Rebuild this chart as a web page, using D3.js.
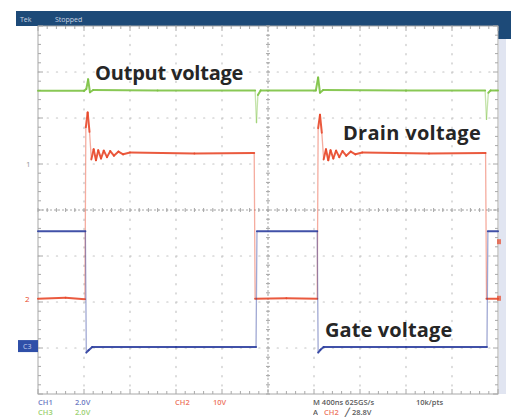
<!DOCTYPE html>
<meta charset="utf-8">
<title>Scope capture</title>
<style>
body {
  margin: 0;
  background: #fff;
}
text {
  font-family: "Open Sans", sans-serif;
}
</style>
<body>
<script src="https://d3js.org/d3.v7.min.js"></script>
<script>
// traces as [time in divisions, level in divisions from centre]
var outputVoltage = [[0,2.59],[1.0,2.59],[1.05,2.63],[1.09,2.84],[1.13,2.56],[1.2,2.61],[2.6,2.6],[4.72,2.6],[4.75,1.9],[4.78,2.5],[4.84,2.6],
  [6.04,2.6],[6.09,2.88],[6.13,2.55],[6.2,2.61],[8.0,2.6],[9.72,2.6],[9.75,1.97],[9.79,2.55],[9.84,2.6],[10,2.6]];
var drainVoltage = [[0,-1.93],[0.6,-1.91],[1.02,-1.94],[1.04,1.8],[1.08,2.12],[1.12,1.7],[1.16,1.1],[1.21,1.32],[1.26,1.08],[1.31,1.3],[1.37,1.12],
  [1.43,1.29],[1.5,1.15],[1.57,1.28],[1.65,1.18],[1.75,1.27],[1.85,1.21],[2.0,1.25],[3.4,1.23],[4.7,1.24],[4.72,-1.93],[5.4,-1.92],[6.07,-1.93],
  [6.09,1.78],[6.13,2.07],[6.17,1.68],[6.21,1.1],[6.26,1.32],[6.31,1.08],[6.36,1.3],[6.42,1.12],[6.48,1.29],[6.55,1.15],[6.62,1.28],[6.7,1.18],
  [6.8,1.27],[6.9,1.21],[7.05,1.25],[8.5,1.23],[9.73,1.24],[9.75,-1.93],[10,-1.93]];
var gateVoltage = [[0,-0.46],[1.03,-0.46],[1.05,-3.1],[1.1,-3.05],[1.18,-2.98],[3.0,-2.98],[4.74,-2.98],[4.76,-0.46],[6.07,-0.46],
  [6.09,-3.1],[6.14,-3.04],[6.21,-2.98],[8.0,-2.98],[9.76,-2.98],[9.78,-0.46],[10,-0.46]];

var traceColors = {output: "#7cc242", drain: "#e8482a", gate: "#2c3e9e"};
var labels = [
  {text: "Output voltage", t: 1.24, v: 2.83},
  {text: "Drain voltage", t: 6.63, v: 1.52},
  {text: "Gate voltage", t: 6.24, v: -2.77}
];
var footerRow1 = [["CH1", "#3b4fb0", 38], ["2.0V", "#3b4fb0", 75], ["CH2", "#e8482a", 175], ["10V", "#e8482a", 213], ["M 400ns 625GS/s", "#222", 313], ["10k/pts", "#222", 416]];
var footerRow2 = [["CH3", "#7cc242", 38], ["2.0V", "#7cc242", 75], ["A", "#222", 313], ["CH2", "#e8482a", 324], ["\u2571 28.8V", "#222", 345]];

var w = 511, h = 417;
var x = d3.scaleLinear().domain([0, 10]).range([38, 498]);
var y = d3.scaleLinear().domain([-4, 4]).range([394, 26]);

var svg = d3.select("body").append("svg")
    .attr("width", w)
    .attr("height", h);

// header bar
svg.append("rect").attr("x", 16).attr("y", 11).attr("width", w - 16).attr("height", 15).attr("fill", "#1d4a78");
svg.append("rect").attr("x", 498).attr("y", 11).attr("width", 13).attr("height", 28).attr("fill", "#1d4a78");
svg.append("rect").attr("x", 499).attr("y", 39).attr("width", 7).attr("height", 355).attr("fill", "#e1e5f1");
svg.append("text").attr("x", 20).attr("y", 22).attr("font-size", 7).attr("fill", "#c9d3e2").text("Tek");
svg.append("text").attr("x", 55).attr("y", 22).attr("font-size", 7).attr("fill", "#c9d3e2").text("Stopped");

// dotted grid
var minor = d3.range(0, 10.01, 0.2), minorY = d3.range(-4, 4.01, 0.2);
var grid = svg.append("g").attr("stroke", "#c4c4c4").attr("stroke-width", 1.2).attr("stroke-dasharray", "1.2,8").attr("stroke-linecap", "round");
d3.range(1, 10).forEach(function(d) {
  grid.append("line").attr("x1", x(d)).attr("x2", x(d)).attr("y1", y(4)).attr("y2", y(-4));
});
d3.range(-3, 4).forEach(function(d) {
  grid.append("line").attr("x1", x(0)).attr("x2", x(10)).attr("y1", y(d)).attr("y2", y(d));
});

// frame and centre crosshair with minor ticks
var frame = svg.append("g").attr("stroke", "#a8a8a8").attr("stroke-width", 1);
frame.append("rect").attr("x", x(0)).attr("y", y(4)).attr("width", x(10) - x(0)).attr("height", y(-4) - y(4)).attr("fill", "none");
frame.append("line").attr("x1", x(5)).attr("x2", x(5)).attr("y1", y(4)).attr("y2", y(-4)).attr("stroke-dasharray", "2,2");
frame.append("line").attr("x1", x(0)).attr("x2", x(10)).attr("y1", y(0)).attr("y2", y(0)).attr("stroke-dasharray", "2,2");
minor.forEach(function(d) {
  var len = Math.abs(d - Math.round(d)) < 0.01 ? 5 : 3;
  frame.append("line").attr("x1", x(d)).attr("x2", x(d)).attr("y1", y(0) - 2).attr("y2", y(0) + 2);
  frame.append("line").attr("x1", x(d)).attr("x2", x(d)).attr("y1", y(4)).attr("y2", y(4) + len);
  frame.append("line").attr("x1", x(d)).attr("x2", x(d)).attr("y1", y(-4)).attr("y2", y(-4) - len);
});
minorY.forEach(function(d) {
  var len = Math.abs(d - Math.round(d)) < 0.01 ? 5 : 3;
  frame.append("line").attr("x1", x(5) - 2).attr("x2", x(5) + 2).attr("y1", y(d)).attr("y2", y(d));
  frame.append("line").attr("x1", x(0)).attr("x2", x(0) + len).attr("y1", y(d)).attr("y2", y(d));
  frame.append("line").attr("x1", x(10)).attr("x2", x(10) - len).attr("y1", y(d)).attr("y2", y(d));
});

// traces: fast edges drawn paler, like the phosphor
function drawTrace(data, color) {
  var g = svg.append("g").attr("stroke", color).attr("fill", "none").attr("stroke-linecap", "round");
  d3.pairs(data).forEach(function(p) {
    var dx = Math.abs(x(p[1][0]) - x(p[0][0])), dy = Math.abs(y(p[1][1]) - y(p[0][1]));
    var edge = dy > 25 && dy > 4 * dx;
    g.append("line")
        .attr("x1", x(p[0][0])).attr("y1", y(p[0][1]))
        .attr("x2", x(p[1][0])).attr("y2", y(p[1][1]))
        .attr("stroke-width", edge ? 1.3 : 2)
        .attr("stroke-opacity", edge ? 0.45 : 0.9);
  });
}
drawTrace(outputVoltage, traceColors.output);
drawTrace(drainVoltage, traceColors.drain);
drawTrace(gateVoltage, traceColors.gate);

// channel ground markers
svg.append("text").attr("x", 26).attr("y", y(1) + 3).attr("font-size", 8).attr("fill", "#999").text("1");
svg.append("text").attr("x", 25).attr("y", y(-1.93) + 3).attr("font-size", 8).attr("fill", "#e8482a").text("2");
svg.append("rect").attr("x", 18).attr("y", y(-2.98) - 7).attr("width", 20).attr("height", 12).attr("fill", "#2f4fa8");
svg.append("text").attr("x", 23).attr("y", y(-2.98) + 2).attr("font-size", 7).attr("fill", "#c8d2ee").text("C3");
svg.append("rect").attr("x", 497).attr("y", y(-0.7) - 3).attr("width", 4).attr("height", 5).attr("fill", "#e8482a").attr("opacity", 0.7);
svg.append("rect").attr("x", 497).attr("y", y(-1.93) - 3).attr("width", 4).attr("height", 5).attr("fill", "#e8482a").attr("opacity", 0.7);

// annotations
svg.selectAll(".label")
  .data(labels)
  .enter().append("text")
    .attr("class", "label")
    .attr("x", function(d) { return x(d.t); })
    .attr("y", function(d) { return y(d.v); })
    .attr("font-size", 20)
    .attr("font-weight", 700)
    .attr("fill", "#262626")
    .attr("textLength", function(d) { return d.text.length * 10.6; })
    .text(function(d) { return d.text; });

// readout footer
[footerRow1, footerRow2].forEach(function(row, i) {
  svg.selectAll(".f" + i)
    .data(row)
    .enter().append("text")
      .attr("x", function(d) { return d[2]; })
      .attr("y", 405 + i * 10)
      .attr("font-size", 7.5)
      .attr("font-weight", 600)
      .attr("fill", function(d) { return d[1]; })
      .attr("opacity", 0.75)
      .text(function(d) { return d[0]; });
});
</script>
